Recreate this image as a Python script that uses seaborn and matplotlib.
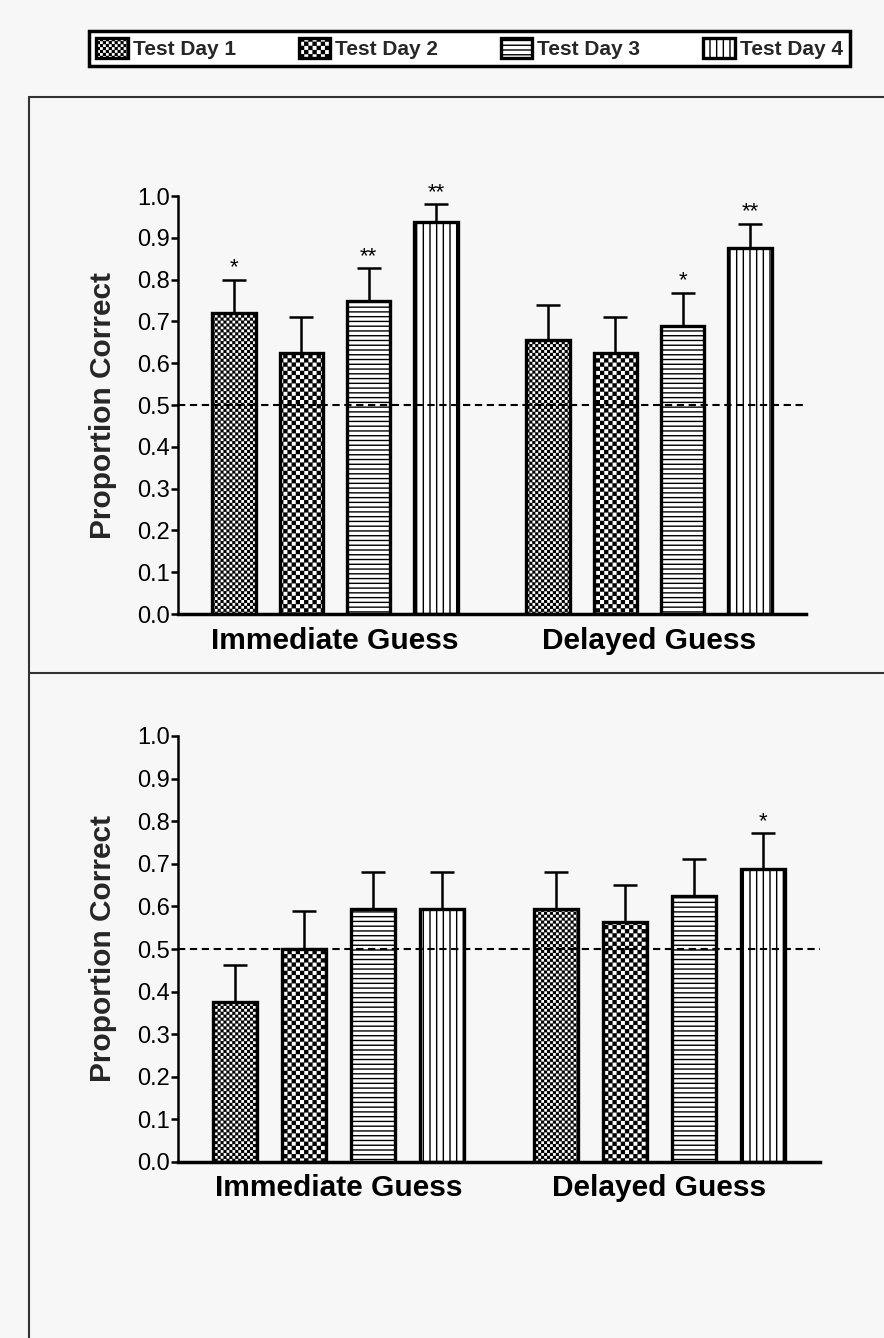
import numpy as np
import pandas as pd
import matplotlib
matplotlib.use("Agg")
import matplotlib.pyplot as plt
import matplotlib.hatch as mhatch
from matplotlib.path import Path
from matplotlib.lines import Line2D
import seaborn as sns

# ---------------- data ----------------
conditions = ["Immediate Guess", "Delayed Guess"]
days = ["Test Day 1", "Test Day 2", "Test Day 3", "Test Day 4"]

top_immediate = [0.719, 0.625, 0.750, 0.938]
top_delayed = [0.656, 0.625, 0.688, 0.875]
top_sem_immediate = [0.080, 0.086, 0.077, 0.042]
top_sem_delayed = [0.084, 0.086, 0.081, 0.058]
top_stars_immediate = ["*", "", "**", "**"]
top_stars_delayed = ["", "", "*", "**"]

bottom_immediate = [0.375, 0.500, 0.594, 0.594]
bottom_delayed = [0.594, 0.563, 0.625, 0.688]
bottom_sem_immediate = [0.087, 0.089, 0.087, 0.087]
bottom_sem_delayed = [0.087, 0.088, 0.087, 0.084]
bottom_stars_immediate = ["", "", "", ""]
bottom_stars_delayed = ["", "", "", "*"]

ytick_values = [0.0, 0.1, 0.2, 0.3, 0.4, 0.5, 0.6, 0.7, 0.8, 0.9, 1.0]
chance_level = 0.5
hatches = ["o", "O", "-", "|"]

# ---------------- custom hatch patterns ----------------
class _LineHatch(mhatch.HatchPatternBase):
    char = "-"
    per_tile = 21
    vertical = False

    def __init__(self, hatch, density):
        self.num_lines = self.per_tile if self.char in hatch else 0
        self.num_vertices = self.num_lines * 2

    def set_vertices_and_codes(self, vertices, codes):
        steps, stepsize = np.linspace(0.0, 1.0, self.num_lines, False, retstep=True)
        steps = steps + stepsize / 2.0
        if self.vertical:
            vertices[0::2, 0] = steps
            vertices[0::2, 1] = 0.0
            vertices[1::2, 0] = steps
            vertices[1::2, 1] = 1.0
        else:
            vertices[0::2, 0] = 0.0
            vertices[0::2, 1] = steps
            vertices[1::2, 0] = 1.0
            vertices[1::2, 1] = steps
        codes[0::2] = Path.MOVETO
        codes[1::2] = Path.LINETO


class _HLines(_LineHatch):
    char = "-"
    per_tile = 21
    vertical = False


class _VLines(_LineHatch):
    char = "|"
    per_tile = 15
    vertical = True


class _Checker(mhatch.HatchPatternBase):
    char = "o"
    cells = 34
    inset = 0.0

    def __init__(self, hatch, density):
        active = self.char in hatch
        n = self.cells
        self.num_vertices = (n * n // 2) * 5 if active else 0

    def set_vertices_and_codes(self, vertices, codes):
        n = self.cells
        s = 1.0 / n
        d = self.inset
        k = 0
        for i in range(n):
            for j in range(n):
                if (i + j) % 2:
                    continue
                x0, y0 = i * s + d, j * s + d
                x1, y1 = (i + 1) * s - d, (j + 1) * s - d
                vertices[k:k + 5] = [[x0, y0], [x1, y0], [x1, y1], [x0, y1], [x0, y0]]
                codes[k:k + 5] = [Path.MOVETO, Path.LINETO, Path.LINETO,
                                  Path.LINETO, Path.CLOSEPOLY]
                k += 5


class _CheckerFine(_Checker):
    char = "o"
    cells = 34
    inset = 0.006


class _CheckerCoarse(_Checker):
    char = "O"
    cells = 24
    inset = 0.006


mhatch._hatch_types[:] = [_HLines, _VLines, _CheckerFine, _CheckerCoarse]

# ---------------- style ----------------
sns.set_theme(style="white")
bg = "#f7f7f7"
plt.rcParams["font.family"] = ["Liberation Sans", "DejaVu Sans"]
plt.rcParams["hatch.linewidth"] = 1.0
plt.rcParams["hatch.color"] = "black"
plt.rcParams["figure.facecolor"] = bg
plt.rcParams["axes.facecolor"] = bg

fig = plt.figure(figsize=(8.84, 13.38), dpi=100)
W, H = 884.0, 1338.0

ax_top = fig.add_axes([178 / W, 1 - 614 / H, 628 / W, 418 / H])
ax_bot = fig.add_axes([178 / W, 1 - 1162 / H, 642 / W, 426 / H])


def make_df(imm, dly):
    rows = []
    for cond, vals in zip(conditions, [imm, dly]):
        for d, v in zip(days, vals):
            rows.append({"condition": cond, "day": d, "value": v})
    return pd.DataFrame(rows)


def draw_panel(ax, imm, dly, sem_imm, sem_dly, st_imm, st_dly):
    df = make_df(imm, dly)
    sns.barplot(data=df, x="condition", y="value", hue="day",
                order=conditions, hue_order=days,
                palette={d: "white" for d in days}, saturation=1,
                errorbar=None, width=0.858, gap=0.357,
                edgecolor="black", linewidth=2.4, legend=False, ax=ax,
                zorder=2)
    bar_containers = list(ax.containers)
    for i, cont in enumerate(bar_containers):
        for bar in cont:
            bar.set_hatch(hatches[i])
            bar.set_edgecolor("black")
            bar.set_linewidth(2.4)
        xs = [b.get_x() + b.get_width() / 2 for b in cont]
        means = [imm[i], dly[i]]
        sems = [sem_imm[i], sem_dly[i]]
        stars = [st_imm[i], st_dly[i]]
        ax.errorbar(xs, means, yerr=[np.zeros(2), sems], fmt="none",
                    ecolor="black", elinewidth=1.8, capsize=8.5,
                    capthick=1.8, zorder=3)
        for x, m, s, st in zip(xs, means, sems, stars):
            if st:
                ax.annotate(st, (x, m + s), xytext=(0, 1),
                            textcoords="offset points", ha="center",
                            va="bottom", fontsize=16, color="black")
    ax.axhline(chance_level, color="black", lw=1.5, ls=(0, (3.5, 2.2)), zorder=5)
    ax.set_xlim(-0.5, 1.5)
    ax.set_ylim(0, 1.0)
    ax.set_yticks(ytick_values)
    ax.set_yticklabels([f"{v:.1f}" for v in ytick_values])
    ax.set_xticks([0, 1])
    ax.set_xticklabels(conditions, fontsize=21.5, fontweight="bold")
    ax.set_xlabel("")
    ax.set_ylabel("Proportion Correct", fontsize=21.5, fontweight="bold",
                  labelpad=14)
    for side in ["top", "right"]:
        ax.spines[side].set_visible(False)
    ax.spines["left"].set_linewidth(1.8)
    ax.spines["bottom"].set_linewidth(2.5)
    ax.spines["left"].set_color("black")
    ax.spines["bottom"].set_color("black")
    ax.tick_params(axis="y", length=5, width=1.8, direction="out",
                   labelsize=17, pad=1, left=True, colors="black")
    ax.tick_params(axis="x", length=0, pad=9, colors="black")
    ax.set_facecolor(bg)
    return bar_containers


top_containers = draw_panel(ax_top, top_immediate, top_delayed, top_sem_immediate,
                            top_sem_delayed, top_stars_immediate, top_stars_delayed)
draw_panel(ax_bot, bottom_immediate, bottom_delayed, bottom_sem_immediate,
           bottom_sem_delayed, bottom_stars_immediate, bottom_stars_delayed)

# legend
leg = fig.legend(top_containers, days, loc="center", ncol=4,
                 bbox_to_anchor=(469.5 / W, 1 - 48.5 / H),
                 prop={"size": 15, "weight": "bold"},
                 handlelength=1.52, handleheight=1.1, handletextpad=0.24,
                 columnspacing=3.0, borderpad=0.35, fancybox=False,
                 frameon=True, framealpha=1)
leg.get_frame().set_edgecolor("black")
leg.get_frame().set_linewidth(2.5)
leg.get_frame().set_facecolor("white")

# panel frame lines
line_kw = dict(transform=fig.transFigure, color="#333333", lw=1.5)
fig.add_artist(Line2D([29 / W, 29 / W], [0, 1 - 97 / H], **line_kw))
fig.add_artist(Line2D([29 / W, 1.0], [1 - 97 / H, 1 - 97 / H], **line_kw))
fig.add_artist(Line2D([29 / W, 1.0], [1 - 673 / H, 1 - 673 / H], **line_kw))

fig.savefig("out.png", dpi=100, facecolor=bg)
